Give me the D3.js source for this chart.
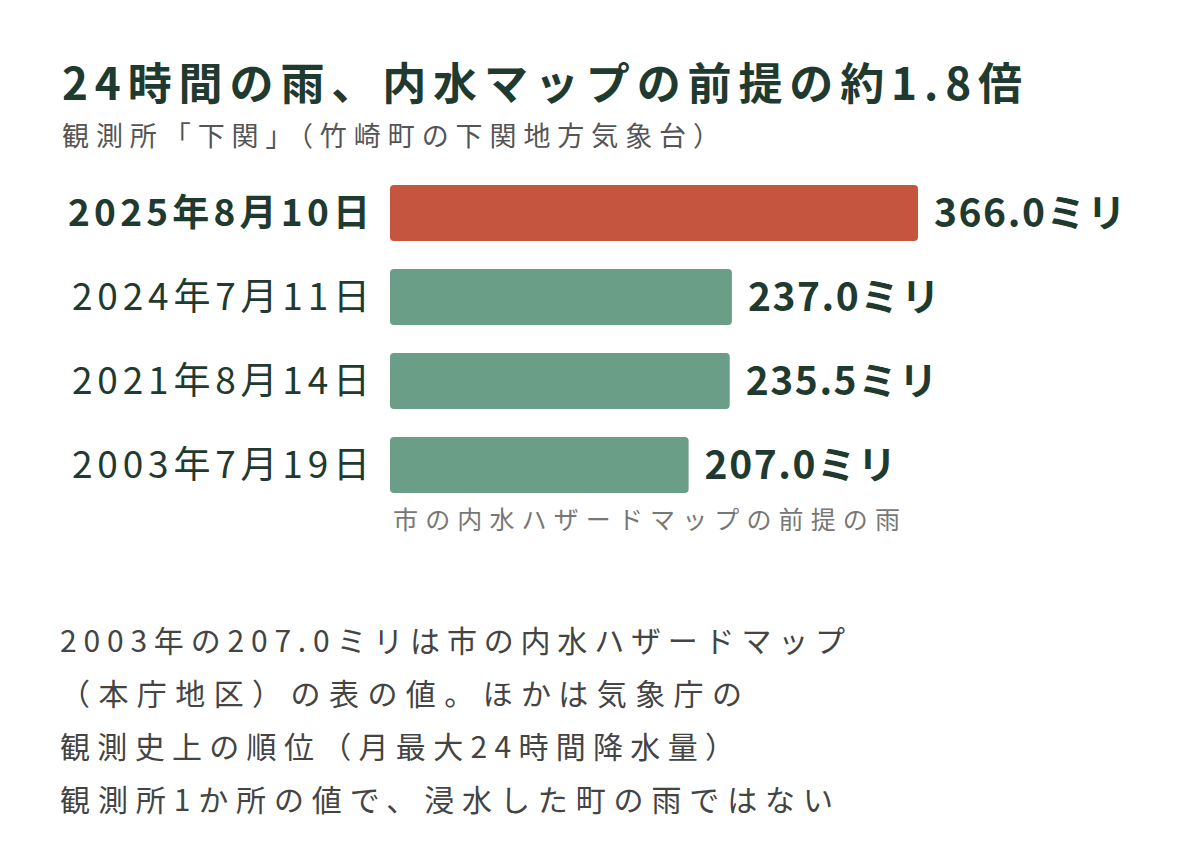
<!DOCTYPE html><html><head><meta charset="utf-8">
<script src="https://cdn.jsdelivr.net/npm/d3@7"></script>
<style>body{margin:0;background:#fff}</style></head><body>
<script>
const categories=["2025年8月10日","2024年7月11日","2021年8月14日","2003年7月19日"];
const values=[366.0,237.0,235.5,207.0];
const colors=["#c5553f","#6a9e86","#6a9e86","#6a9e86"];
const title="24時間の雨、内水マップの前提の約1.8倍";
const subtitle="観測所「下関」（竹崎町の下関地方気象台）";
const caption="市の内水ハザードマップの前提の雨";
const notes=["2003年の207.0ミリは市の内水ハザードマップ","（本庁地区）の表の値。ほかは気象庁の","観測史上の順位（月最大24時間降水量）","観測所1か所の値で、浸水した町の雨ではない"];
const noteWidths=[785,682,675,773];
const W=1200,H=854,F="'Noto Sans CJK JP',sans-serif",dark="#1f3a2f";
const svg=d3.select("body").append("svg").attr("width",W).attr("height",H).style("font-family",F);
svg.append("text").attr("x",62).attr("y",100).attr("font-size",44).attr("font-weight",700).attr("fill",dark).attr("textLength",960).attr("lengthAdjust","spacing").text(title);
svg.append("text").attr("x",62).attr("y",146).attr("font-size",27).attr("fill","#555").attr("textLength",658).attr("lengthAdjust","spacing").text(subtitle);
const x=d3.scaleLinear().domain([0,366]).range([390,918]);
const y=d3.scaleBand().domain(categories).range([185,493]).paddingInner(28/84);
const g=svg.selectAll("g.r").data(categories).enter().append("g");
g.append("rect").attr("x",x(0)).attr("y",d=>y(d)).attr("width",(d,i)=>x(values[i])-x(0)).attr("height",y.bandwidth()).attr("rx",4).attr("fill",(d,i)=>colors[i]);
g.append("text").attr("x",(d,i)=>i==0?68:72).attr("y",d=>y(d)+y.bandwidth()/2+13).attr("font-size",37).attr("font-weight",(d,i)=>i==0?700:400).attr("fill",dark).attr("textLength",(d,i)=>i==0?302:298).attr("lengthAdjust","spacing").text(d=>d);
g.append("text").attr("x",(d,i)=>x(values[i])+16).attr("y",d=>y(d)+y.bandwidth()/2+14).attr("font-size",39).attr("font-weight",700).attr("fill",dark).attr("textLength",(d,i)=>i==3?192:192).attr("lengthAdjust","spacing").text((d,i)=>values[i].toFixed(1)+"ミリ");
svg.append("text").attr("x",393).attr("y",529).attr("font-size",25).attr("fill","#777").attr("textLength",507).attr("lengthAdjust","spacing").text(caption);
svg.selectAll("text.n").data(notes).enter().append("text").attr("x",60).attr("y",(d,i)=>652+i*53).attr("font-size",30).attr("fill","#444").attr("textLength",(d,i)=>noteWidths[i]).attr("lengthAdjust","spacing").text(d=>d);
</script></body></html>
